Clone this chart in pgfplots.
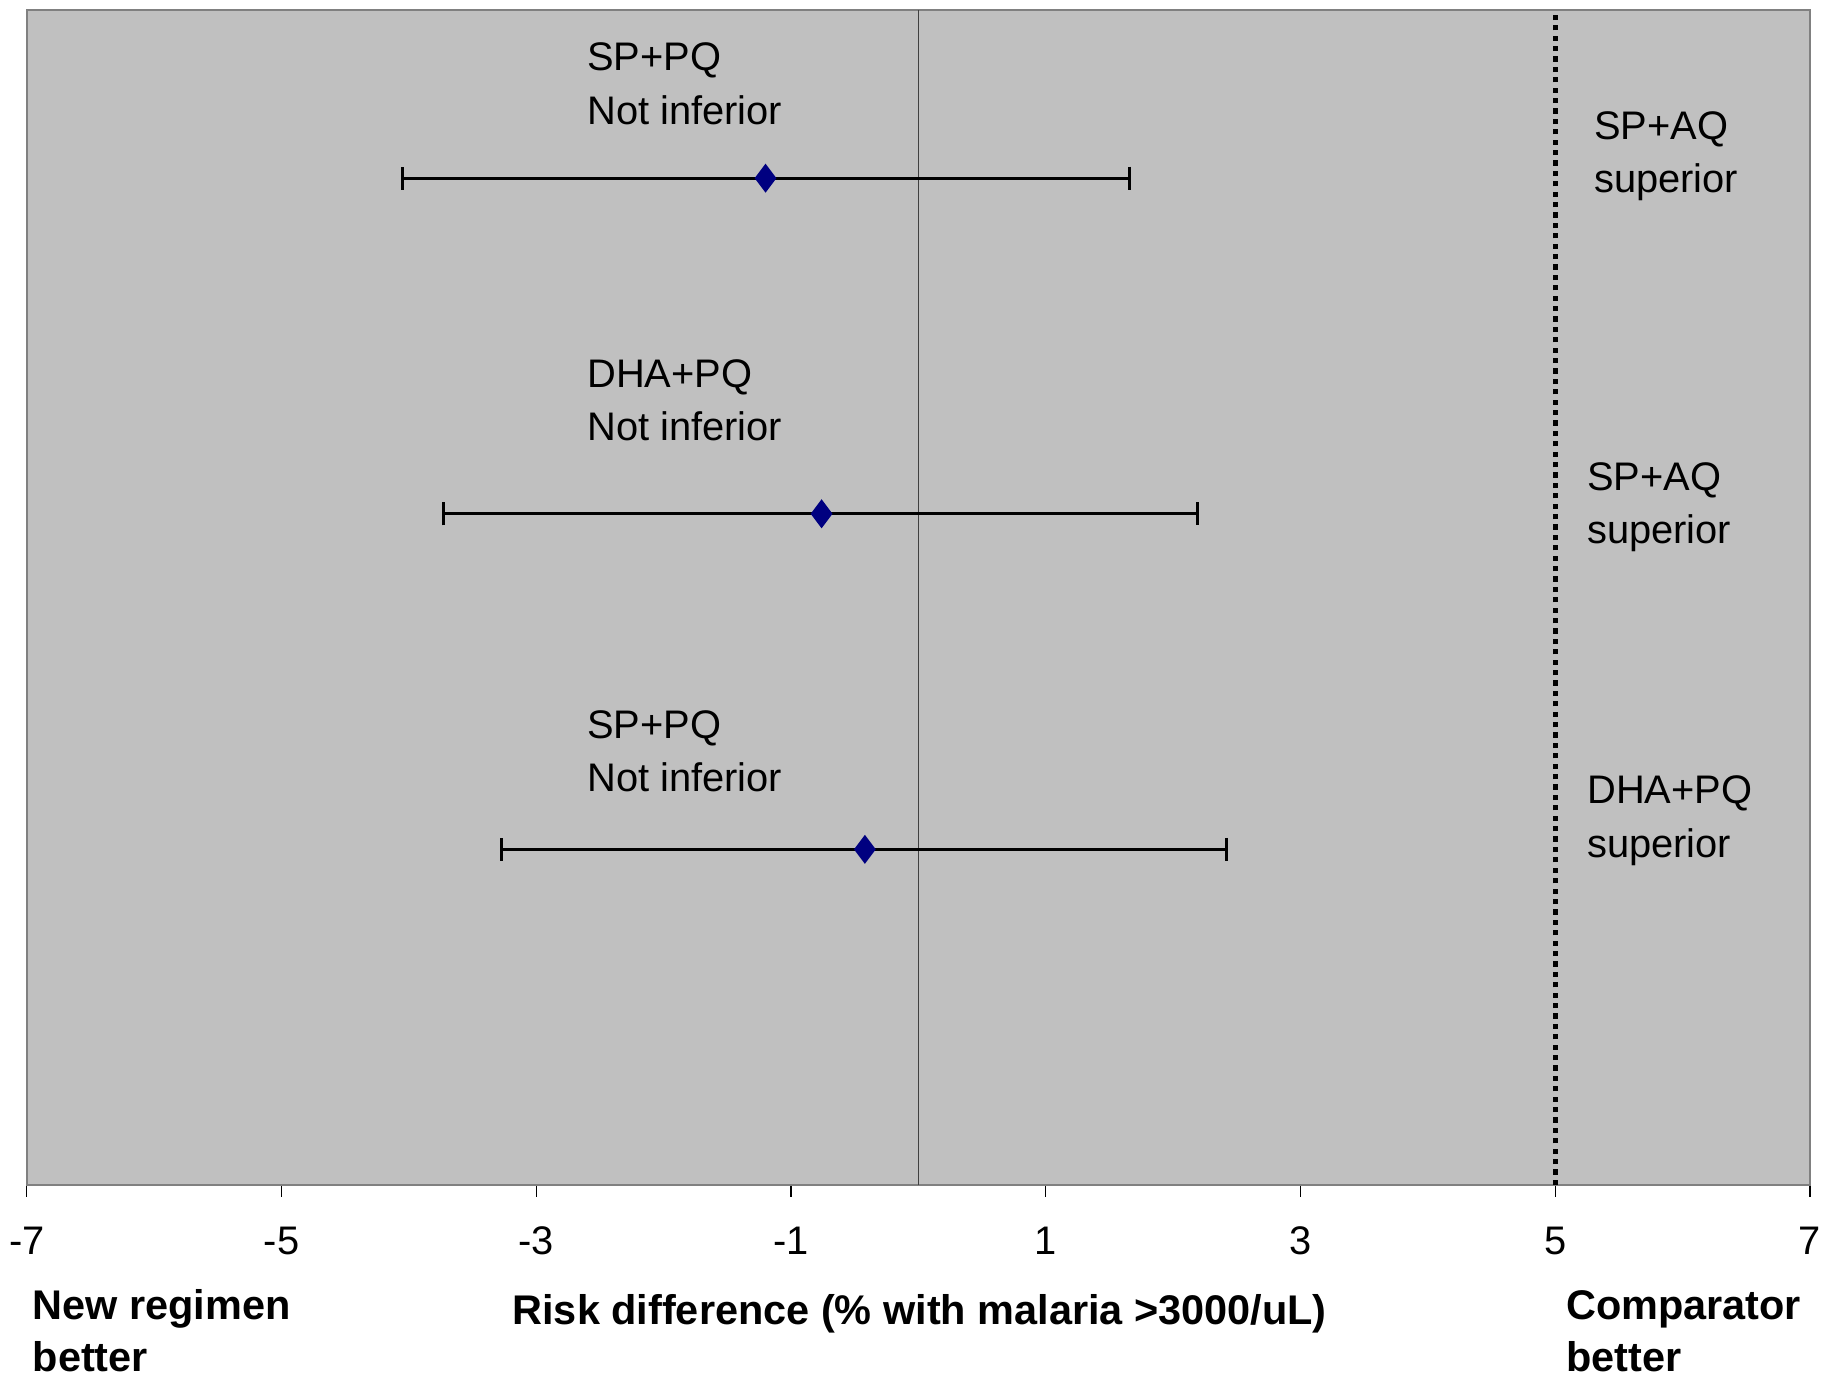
\documentclass[border=0pt]{standalone}
\usepackage{fontspec}
\setmainfont{Liberation Sans}
\usepackage{pgfplots}
\pgfplotsset{compat=1.18}
\definecolor{plotbg}{RGB}{192,192,192}
\definecolor{framegray}{RGB}{128,128,128}
\definecolor{navymark}{RGB}{0,0,128}
\newcommand{\reg}{\fontsize{10}{13.4}\selectfont}
\newcommand{\bld}{\fontsize{10.4}{13.1}\selectfont\bfseries}

\begin{document}
\begin{tikzpicture}
\begin{axis}[
    at={(0,0)}, anchor=south west,
    scale only axis,
    width=445.75bp, height=293.6bp,
    xmin=-7, xmax=7, ymin=0, ymax=3.5,
    axis background/.style={fill=plotbg},
    axis line style={draw=framegray, line width=0.5bp},
    ytick=\empty,
    xtick={-7,-5,-3,-1,1,3,5,7},
    xticklabels={-7,-5,-3,-1,1,3,5,7},
    xtick pos=left,
    tick align=outside,
    major tick length=3bp,
    tick style={black, line width=0.3bp},
    xticklabel style={font=\reg, anchor=north, yshift=-4bp},
    clip=false,
]
% zero line and dotted 5% margin
\addplot[black!75, line width=0.3bp] coordinates {(0,0) (0,3.5)};
\addplot[black, line width=1.3bp, dash pattern=on 1.3bp off 1.3bp] coordinates {(5,0) (5,3.5)};

% risk differences with 95% CI
\addplot[only marks, mark=diamond*, mark size=3.3bp,
    mark options={fill=navymark, draw=navymark},
    error bars/.cd, x dir=both, x explicit,
    error bar style={black, line width=0.75bp},
    error mark options={black, mark size=2.9bp, line width=0.75bp, rotate=90}]
coordinates {
(-1.20,3) += (2.86,0) -= (2.85,0)
(-0.76,2) += (2.95,0) -= (2.97,0)
(-0.42,1) += (2.84,0) -= (2.85,0)
};

\node[anchor=west, align=left, inner sep=0, font=\reg] at (axis cs:-2.605,3.281) {SP+PQ\\Not inferior};
\node[anchor=west, align=left, inner sep=0, font=\reg] at (axis cs:-2.605,2.338) {DHA+PQ\\Not inferior};
\node[anchor=west, align=left, inner sep=0, font=\reg] at (axis cs:-2.605,1.292) {SP+PQ\\Not inferior};
\node[anchor=west, align=left, inner sep=0, font=\reg] at (axis cs:5.30,3.065) {SP+AQ\\superior};
\node[anchor=west, align=left, inner sep=0, font=\reg] at (axis cs:5.245,2.02) {SP+AQ\\superior};
\node[anchor=west, align=left, inner sep=0, font=\reg] at (axis cs:5.245,1.085) {DHA+PQ\\superior};

\node[anchor=west, align=left, inner sep=0, font=\bld] at (axis cs:-6.96,-0.435) {New regimen\\better};
\node[inner sep=0, font=\bld] at (axis cs:0.01,-0.385) {Risk difference (\% with malaria >3000/uL)};
\node[anchor=west, align=left, inner sep=0, font=\bld] at (axis cs:5.08,-0.435) {Comparator\\better};
\end{axis}
\pgfresetboundingbox
\useasboundingbox (-6.7bp,-47.75bp) rectangle (449.5bp,296.2bp);
\end{tikzpicture}
\end{document}
